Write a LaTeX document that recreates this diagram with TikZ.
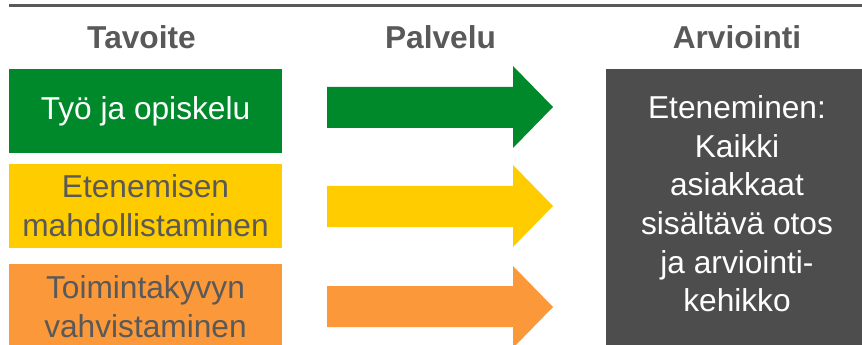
\documentclass[tikz,border=0pt]{standalone}
\usepackage{fontspec}
\setmainfont{Liberation Sans}

\tikzset{every picture/.style={line width=0.75pt}}

\begin{document}
\begin{tikzpicture}[x=0.75pt,y=0.75pt,yscale=-1,xscale=1]
\useasboundingbox (0,0) rectangle (862,345);

%Straight Lines [id:top]
\draw [color={rgb, 255:red, 89; green, 89; blue, 89 }  ,draw opacity=1 ][line width=2.25]  (9,5.75) -- (862,5.75) ;

%Shape: Rectangle [id:tyo]
\draw  [draw=none,fill={rgb, 255:red, 0; green, 137; blue, 43 }  ,fill opacity=1 ] (9,69) rectangle (282,153) ;
%Shape: Rectangle [id:etenemisen]
\draw  [draw=none,fill={rgb, 255:red, 255; green, 204; blue, 0 }  ,fill opacity=1 ] (9,164) rectangle (282,248) ;
%Shape: Rectangle [id:toimintakyky]
\draw  [draw=none,fill={rgb, 255:red, 250; green, 152; blue, 58 }  ,fill opacity=1 ] (9,264) rectangle (282,348) ;
%Shape: Rectangle [id:arviointi]
\draw  [draw=none,fill={rgb, 255:red, 77; green, 77; blue, 77 }  ,fill opacity=1 ] (606,69) rectangle (862,350) ;

%Right Arrow [id:nuoli1]
\draw  [draw=none,fill={rgb, 255:red, 0; green, 137; blue, 43 }  ,fill opacity=1 ] (327,87) -- (513,87) -- (513,66) -- (553,107) -- (513,148) -- (513,128) -- (327,128) -- cycle ;
%Right Arrow [id:nuoli2]
\draw  [draw=none,fill={rgb, 255:red, 255; green, 204; blue, 0 }  ,fill opacity=1 ] (327,186) -- (513,186) -- (513,165) -- (553,206) -- (513,247) -- (513,227) -- (327,227) -- cycle ;
%Right Arrow [id:nuoli3]
\draw  [draw=none,fill={rgb, 255:red, 250; green, 152; blue, 58 }  ,fill opacity=1 ] (327,286) -- (513,286) -- (513,266) -- (553,307) -- (513,348) -- (513,327) -- (327,327) -- cycle ;

% Text Node
\draw (141.5,37.5) node (tavoite) [font=\fontsize{23.75}{29}\selectfont\bfseries, color={rgb, 255:red, 89; green, 89; blue, 89 }] [align=center] {Tavoite};
% Text Node
\draw (440.5,37.5) node (palvelu) [font=\fontsize{23.75}{29}\selectfont\bfseries, color={rgb, 255:red, 89; green, 89; blue, 89 }] [align=center] {Palvelu};
% Text Node
\draw (737,37.5) node (arvio) [font=\fontsize{23.75}{29}\selectfont\bfseries, color={rgb, 255:red, 89; green, 89; blue, 89 }] [align=center] {Arviointi};
% Text Node
\draw (145.5,111) node (tyoteksti) [font=\fontsize{23.75}{29}\selectfont, color=white] [align=center] {Työ ja opiskelu};
% Text Node
\draw (145.5,206) node (etenemisteksti) [font=\fontsize{23.75}{29}\selectfont, color={rgb, 255:red, 89; green, 89; blue, 89 }] [align=center] {Etenemisen\\mahdollistaminen};
% Text Node
\draw (145.5,307) node (toimintateksti) [font=\fontsize{23.75}{29}\selectfont, color={rgb, 255:red, 89; green, 89; blue, 89 }] [align=center] {Toimintakyvyn\\vahvistaminen};
% Text Node
\draw (737,204) node (arviointiteksti) [font=\fontsize{23.75}{29}\selectfont, color=white] [align=center] {Eteneminen:\\Kaikki\\asiakkaat\\sisältävä otos\\ja arviointi-\\kehikko};

\end{tikzpicture}
\end{document}
